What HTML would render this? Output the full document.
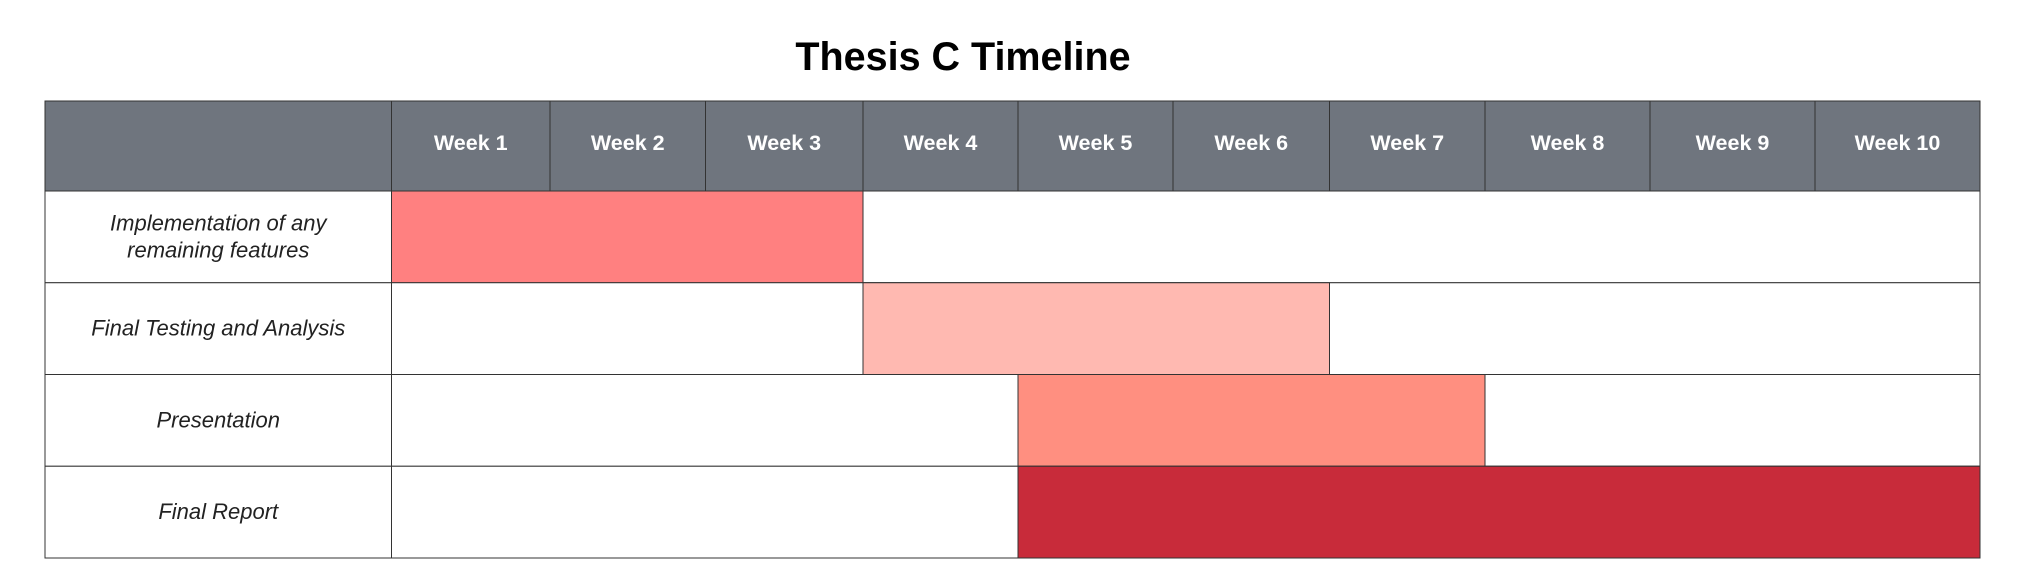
<!DOCTYPE html>
<html><head><meta charset="utf-8"><style>
html,body{margin:0;padding:0;background:#fff;width:2026px;height:585px;overflow:hidden}
</style></head><body>
<svg id="chart" width="2026" height="585" xmlns="http://www.w3.org/2000/svg">
<text x="963" y="70" text-anchor="middle" font-family="Liberation Sans, sans-serif" font-weight="bold" font-size="39.5">Thesis C Timeline</text>
</svg>
<script>
const weeks = ["Week 1","Week 2","Week 3","Week 4","Week 5","Week 6","Week 7","Week 8","Week 9","Week 10"];
const colEdges = [391.5,550,705.5,863,1018,1173,1329.5,1485,1650,1815,1980];
const tasks = [["Implementation of any","remaining features"],["Final Testing and Analysis"],["Presentation"],["Final Report"]];
const startWeek = [1,4,5,5];
const endWeek = [3,6,7,10];
const colors = ["#FF8080","#FFB9B1","#FF8F80","#C82B3A"];
const svg = document.getElementById('chart');
const NS = "http://www.w3.org/2000/svg";
const L = 45, R = 1980, T = 101, HB = 191, RH = 91.75;
function xw(w){ return colEdges[w]; }
function yr(i){ return HB + i*RH; }
function mk(tag, attrs){ const e=document.createElementNS(NS,tag); for(const k in attrs) e.setAttribute(k,attrs[k]); svg.appendChild(e); return e; }
let h = mk('rect',{x:L,y:T,width:R-L,height:HB-T,fill:'#6F757E',stroke:'#333',"stroke-width":1});


weeks.forEach((w,i)=>{
  const x0=xw(i), x1=xw(i+1);
  const ln = mk('line',{x1:x0,y1:T,x2:x0,y2:HB,stroke:'#333',"stroke-width":1});
  
  
  const t = mk('text',{x:(x0+x1)/2,y:(T+HB)/2+4,"text-anchor":"middle","font-family":"Liberation Sans, sans-serif","font-weight":"bold","font-size":21.5,fill:'#fff'});
  t.textContent=w;
  
  
});
tasks.forEach((lines,i)=>{
  const y0=yr(i);
  const row = mk('rect',{x:L,y:y0,width:R-L,height:RH,fill:'#fff',stroke:'#333',"stroke-width":1});
  
  
  const b = mk('rect',{x:xw(startWeek[i]-1),y:y0,width:xw(endWeek[i])-xw(startWeek[i]-1),height:RH,fill:colors[i],stroke:'#333',"stroke-width":1});
  
  
  const d = mk('line',{x1:colEdges[0],y1:y0,x2:colEdges[0],y2:y0+RH,stroke:'#333',"stroke-width":1});
  
  
  const cx=(L+colEdges[0])/2, cy=y0+RH/2;
  lines.forEach((s,j)=>{
    const t = mk('text',{x:cx,y:cy+7+(j-(lines.length-1)/2)*27,"text-anchor":"middle","font-family":"Liberation Sans, sans-serif","font-style":"italic","font-size":22,fill:'#222'});
    t.textContent=s;
    
    
  });
});
</script>
</body></html>
